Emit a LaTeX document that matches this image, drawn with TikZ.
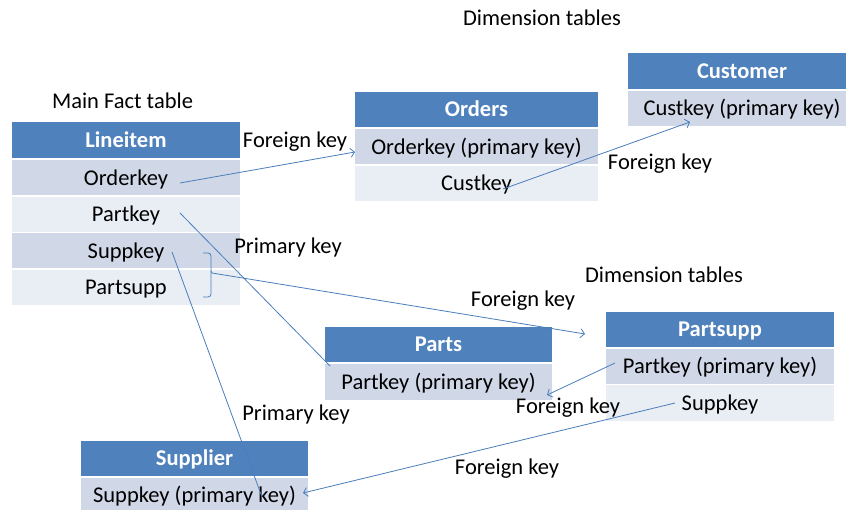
\documentclass[tikz,border=0pt]{standalone}
\usepackage{fontspec}
\setmainfont{Carlito}
\usetikzlibrary{arrows.meta,calc}
\definecolor{hdr}{HTML}{4F81BD}
\definecolor{rowA}{HTML}{D0D8E8}
\definecolor{rowB}{HTML}{E9EDF4}
\definecolor{linkc}{HTML}{4A7EBB}

\begin{document}
\begin{tikzpicture}[x=1pt,y=-1pt,
  every node/.style={font=\fontsize{22.5}{27}\selectfont, inner sep=0pt,
    text height=19pt, text depth=4.5pt},
  cell/.style={rectangle, draw=white, line width=1.2pt, minimum height=37pt},
  hdrcell/.style={cell, fill=hdr, text=white,
    font=\fontsize{22.5}{27}\selectfont\bfseries},
  darkrow/.style={cell, fill=rowA},
  lightrow/.style={cell, fill=rowB},
  link/.style={draw=linkc, line width=0.8pt},
  tip/.style={link, -{Straight Barb[length=4pt,width=9pt]}}
]
\fill[white] (0,0) rectangle (846,510);
\useasboundingbox (0,0) rectangle (846,510);

% --- fact table ---
\node (main) at (122.5,101) {Main Fact table};
\begin{scope}[every node/.append style={minimum width=229pt}]
\node[hdrcell]  (li0) at (126,140)   {Lineitem};
\node[darkrow]  (li1) at (126,178)   {Orderkey};
\node[lightrow] (li2) at (126,214.5) {Partkey};
\node[darkrow]  (li3) at (126,251)   {Suppkey};
\node[lightrow] (li4) at (126,287.5) {Partsupp};
\end{scope}

% --- dimension tables ---
\node (dim1) at (542,18) {Dimension tables};
\node (dim2) at (664,275) {Dimension tables};

\begin{scope}[every node/.append style={minimum width=244pt}]
\node[hdrcell]  (or0) at (476.5,109.5) {Orders};
\node[darkrow]  (or1) at (476.5,147)   {Orderkey (primary key)};
\node[lightrow] (or2) at (476.5,183.5) {Custkey};
\end{scope}

\begin{scope}[every node/.append style={minimum width=229pt}]
\node[hdrcell]  (cu0) at (742,71)    {Customer};
\node[darkrow]  (cu1) at (742,108.5) {Custkey (primary key)};

\node[hdrcell]  (pa0) at (438.5,344.5) {Parts};
\node[darkrow]  (pa1) at (438.5,382)   {Partkey (primary key)};

\node[hdrcell]  (ps0) at (720,329.5) {Partsupp};
\node[darkrow]  (ps1) at (720,366.5) {Partkey (primary key)};
\node[lightrow] (ps2) at (720,403)   {Suppkey};

\node[hdrcell]  (su0) at (194.5,458.5) {Supplier};
\node[darkrow]  (su1) at (194.5,495.5) {Suppkey (primary key)};
\end{scope}

% --- key labels ---
\node (fk1) at (295,140) {Foreign key};
\node (fk2) at (660,162) {Foreign key};
\node (pk1) at (288,246) {Primary key};
\node (fk3) at (523,299) {Foreign key};
\node (fk4) at (568,406) {Foreign key};
\node (pk2) at (296,413) {Primary key};
\node (fk5) at (507,467) {Foreign key};

% --- connector ends ---
\coordinate (okS) at (180,183);
\coordinate (okT) at (355,152);
\coordinate (ckS) at (503,189);
\coordinate (ckT) at (690,122);
\coordinate (pkS) at (180,213);
\coordinate (pkT) at (330,366);
\coordinate (skS) at (172,252);
\coordinate (skT) at (262,497);
\coordinate (brk) at (212,273);
\coordinate (psT) at (585,334);
\coordinate (ppS) at (615,363);
\coordinate (ppT) at (547,395);
\coordinate (spS) at (675,403);
\coordinate (spT) at (303,493);

% bracket grouping Suppkey and Partsupp
\draw[link, rounded corners=3pt] (203,253) -- (211,253) -- (211,297) -- (203,297);
\draw[link] (211,271) -- (brk);

% --- connectors ---
\draw[tip]  (okS) -- (okT);
\draw[tip]  (ckS) -- (ckT);
\draw[link] (pkS) -- (pkT);
\draw[link] (skS) -- (skT);
\draw[tip]  (brk) -- (psT);
\draw[tip]  (ppS) -- (ppT);
\draw[tip]  (spS) -- (spT);
\end{tikzpicture}
\end{document}
